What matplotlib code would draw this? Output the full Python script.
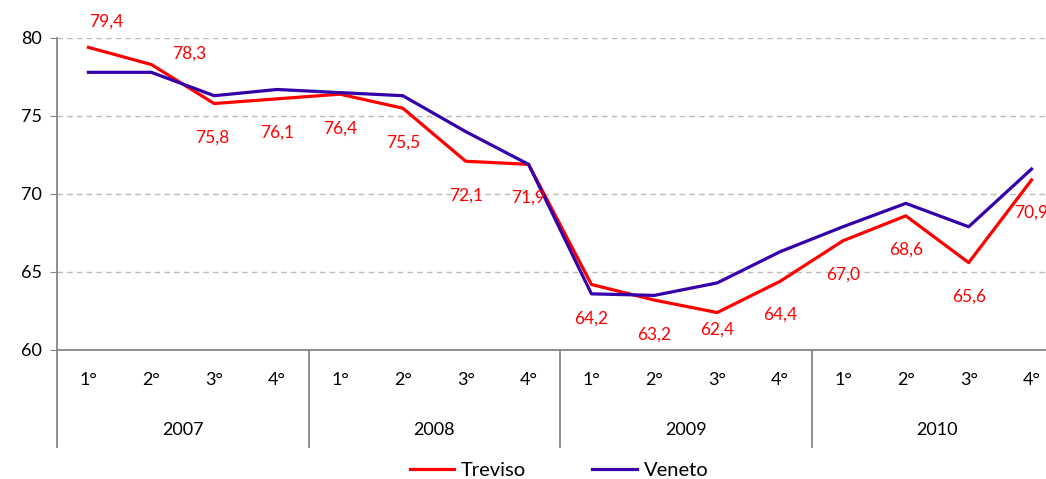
import matplotlib.pyplot as plt
import matplotlib.transforms as mtransforms

plt.rcParams['font.family'] = ['Lato', 'DejaVu Sans']

quarters = ['1°', '2°', '3°', '4°'] * 4
years = ['2007', '2008', '2009', '2010']
treviso = [79.4, 78.3, 75.8, 76.1, 76.4, 75.5, 72.1, 71.9,
           64.2, 63.2, 62.4, 64.4, 67.0, 68.6, 65.6, 70.9]
veneto = [77.8, 77.8, 76.3, 76.7, 76.5, 76.3, 74.0, 71.9,
          63.6, 63.5, 64.3, 66.3, 67.9, 69.4, 67.9, 71.6]

# label offsets in pixels (dx, dy) relative to each Treviso point
label_off = [(18, 26), (38, 11), (-2, -34), (0, -34), (0, -34), (0, -34), (0, -34), (0, -33),
             (0, -34), (0, -35), (0, -17), (0, -33), (0, -34), (0, -34), (0, -34), (0, -33)]

fig = plt.figure(figsize=(10.46, 4.79), dpi=100)
ax = fig.add_axes([57 / 1046, 129 / 479, 1006 / 1046, 312 / 479])

x = list(range(len(treviso)))
ax.plot(x, treviso, color='#FF0000', lw=2.3, label='Treviso', clip_on=False, zorder=3)
ax.plot(x, veneto, color='#3300AA', lw=2.3, label='Veneto', clip_on=False, zorder=4)

for xi, v, (dx, dy) in zip(x, treviso, label_off):
    ax.annotate(f'{v:.1f}'.replace('.', ','), (xi, v), xytext=(dx, dy),
                textcoords='offset pixels', ha='center', va='center',
                color='#FF0000', fontsize=12.5, annotation_clip=False, zorder=5)

ax.set_xlim(-0.5, 15.5)
ax.set_ylim(60, 80)
ax.set_yticks([60, 65, 70, 75, 80])
ax.set_xticks([])
ax.tick_params(axis='y', length=5, color='#868686', labelsize=13, pad=6)
for yv in [65, 70, 75, 80]:
    ax.axhline(yv, color='#BBBBBB', lw=1, ls=(0, (4, 3)), zorder=1)

for s in ['top', 'right']:
    ax.spines[s].set_visible(False)
for s in ['left', 'bottom']:
    ax.spines[s].set_color('#868686')
    ax.spines[s].set_linewidth(1.3)

trans = mtransforms.blended_transform_factory(ax.transData, ax.transAxes)
px = 1 / 312  # one pixel in axes height
for xs in [-0.5, 3.5, 7.5, 11.5, 15.5]:
    ax.plot([xs, xs], [0, -97 * px], color='#868686', lw=1.3, transform=trans, clip_on=False)
for xi, q in zip(x, quarters):
    ax.text(xi, -30 * px, q, transform=trans, ha='center', va='center', fontsize=13)
for i, yr in enumerate(years):
    ax.text(4 * i + 1.5, -80 * px, yr, transform=trans, ha='center', va='center', fontsize=13)

fig.legend(loc='center', bbox_to_anchor=(559 / 1046, 1 - 470 / 479), ncol=2, frameon=False,
           fontsize=14.5, handlelength=2.2, columnspacing=3.3, handletextpad=0.35)

fig.savefig('out.png', dpi=100)
